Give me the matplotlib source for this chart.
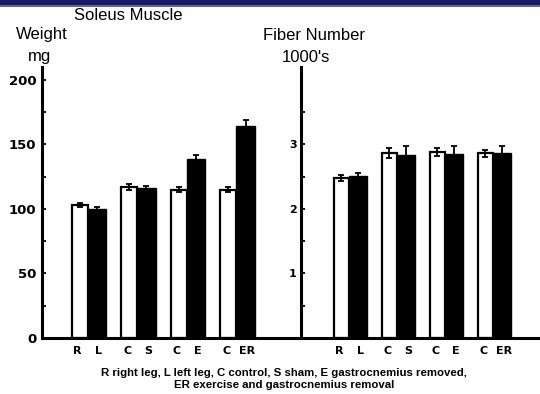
import matplotlib
matplotlib.use("Agg")
import matplotlib.pyplot as plt
from matplotlib.patches import Rectangle
import numpy as np

# ---- data ----
groups = ["RL", "CS", "CE", "CER"]
first_labels = ["R", "C", "C", "C"]
second_labels = ["L", "S", "E", "ER"]

weight_first = [103, 117, 115, 115]      # white bars (mg)
weight_second = [100, 116, 139, 164]     # black bars (mg)
weight_first_err = [1.5, 2, 2, 2]
weight_second_err = [1.5, 2, 3, 5]

fiber_first = [2.48, 2.87, 2.88, 2.86]   # white bars (1000's)
fiber_second = [2.51, 2.84, 2.85, 2.87]  # black bars (1000's)
fiber_first_err = [0.04, 0.08, 0.06, 0.06]
fiber_second_err = [0.05, 0.13, 0.13, 0.10]

left_ticks_major = [0, 50, 100, 150, 200]
left_ticks_minor = [25, 75, 125, 175]
right_ticks_major = [1, 2, 3]
right_ticks_minor = [0.5, 1.5, 2.5, 3.5]

caption = ("R right leg, L left leg, C control, S sham, E gastrocnemius removed,\n"
           "ER exercise and gastrocnemius removal")

W, H = 540, 394
fig = plt.figure(figsize=(W / 100, H / 100), dpi=100)
fig.patch.set_facecolor("white")

# top navy band
fig.patches.append(Rectangle((0, 1 - 5 / H), 1, 5 / H, transform=fig.transFigure,
                             facecolor="#17196a", edgecolor="none", zorder=5))
fig.patches.append(Rectangle((0, 1 - 7 / H), 1, 2 / H, transform=fig.transFigure,
                             facecolor="#5a6aa0", edgecolor="none", zorder=5))

def px_axes(x0, x1, y_top, y_bot):
    return fig.add_axes([x0 / W, (H - y_bot) / H, (x1 - x0) / W, (y_bot - y_top) / H])

ax1 = px_axes(42, 300, 67, 338)
ax2 = px_axes(301, 540, 67, 338)

wfirst, wsecond = 0.32, 0.38

def draw(ax, first, second, ferr, serr, xlim, ylim):
    x = np.arange(len(groups))
    ax.bar(x - wfirst / 2, first, width=wfirst, color="white", edgecolor="black",
           linewidth=1.6, zorder=2)
    ax.bar(x + wsecond / 2, second, width=wsecond, color="black", edgecolor="black",
           linewidth=1.0, zorder=2)
    ax.errorbar(x - wfirst / 2, first, yerr=ferr, fmt="none", ecolor="black",
                elinewidth=1.3, capsize=2, capthick=1.3, zorder=3)
    ax.errorbar(x + wsecond / 2, second, yerr=serr, fmt="none", ecolor="black",
                elinewidth=1.3, capsize=2, capthick=1.3, zorder=3)
    ax.set_xlim(*xlim)
    ax.set_ylim(*ylim)
    for s in ["top", "right"]:
        ax.spines[s].set_visible(False)
    ax.spines["left"].set_linewidth(2.2)
    ax.spines["bottom"].set_linewidth(2.2)
    pos = []
    labs = []
    for i in range(len(groups)):
        pos += [i - wfirst / 2 - 0.04, i + wsecond / 2 + 0.04]
        labs += [first_labels[i], second_labels[i]]
    ax.set_xticks(pos)
    ax.set_xticklabels(labs, fontsize=8, fontweight="bold", family="DejaVu Sans")
    ax.tick_params(axis="x", length=0, pad=6)
    ax.tick_params(axis="y", which="both", direction="in", length=3, width=1.3)

draw(ax1, weight_first, weight_second, weight_first_err, weight_second_err,
     (-0.92, 4.29), (0, 210))
ax1.set_yticks(left_ticks_major)
ax1.set_yticks(left_ticks_minor, minor=True)
ax1.set_yticklabels([str(v) for v in left_ticks_major], fontsize=9.5,
                    fontweight="bold", family="DejaVu Sans")
ax1.tick_params(axis="y", pad=4)

draw(ax2, fiber_first, fiber_second, fiber_first_err, fiber_second_err,
     (-1.0, 3.98), (0, 4.2))
ax2.set_yticks(right_ticks_major)
ax2.set_yticks(right_ticks_minor, minor=True)
ax2.set_yticklabels([str(v) for v in right_ticks_major], fontsize=8,
                    fontweight="bold", family="DejaVu Sans")
ax2.tick_params(axis="y", pad=3)

def ftext(xp, yp, s, **kw):
    fig.text(xp / W, 1 - yp / H, s, ha="center", va="center", **kw)

ftext(128, 15, "Soleus Muscle", fontsize=12, family="Liberation Sans")
ftext(42, 35, "Weight", fontsize=12, family="Liberation Sans")
ftext(40, 57, "mg", fontsize=12, family="Liberation Sans")
ftext(314, 35, "Fiber Number", fontsize=12, family="Liberation Sans")
ftext(306, 57, "1000's", fontsize=12, family="Liberation Sans")
ftext(284, 379, caption, fontsize=8.2, fontweight="bold", family="Liberation Sans",
      linespacing=1.15)

fig.savefig("out.png", dpi=100, facecolor="white")
